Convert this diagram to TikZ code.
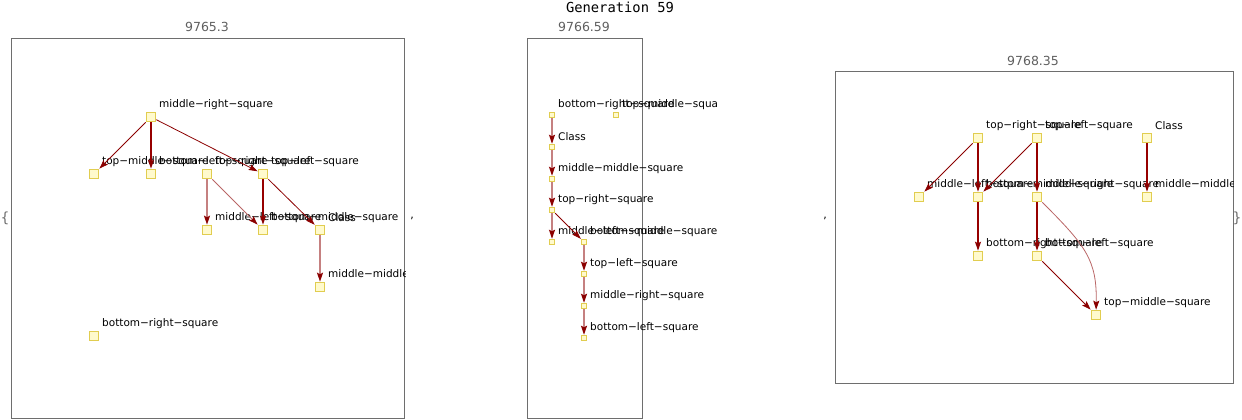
\documentclass[tikz,border=0pt]{standalone}
\usepackage{fontspec}
\setmainfont{DejaVu Sans}
\newfontfamily\genfont{DejaVu Sans Mono}
\usetikzlibrary{arrows.meta}
\definecolor{edgered}{RGB}{139,0,0}
\definecolor{vtxfill}{RGB}{255,250,205}
\definecolor{vtxline}{RGB}{225,205,80}
\definecolor{framegray}{RGB}{110,110,110}
\definecolor{titlegray}{RGB}{95,95,95}

\begin{document}
\begin{tikzpicture}[x=1pt,y=-1pt]
    \tikzstyle{vtx}=[draw=vtxline,fill=vtxfill,line width=1.1pt,minimum size=9.5pt,inner sep=0pt,label distance=9pt]
    \tikzstyle{svtx}=[vtx,line width=0.9pt,minimum size=5.5pt,label distance=9pt]
    \tikzstyle{lbltext}=[anchor=west,inner sep=0pt,yshift=7pt,font=\fontsize{10.5}{12}\selectfont]
    \tikzstyle{lbl}=[lbltext,xshift=8pt]
    \tikzstyle{slbl}=[lbltext,xshift=6pt]
    \tikzstyle{lnk}=[-{Stealth[length=9pt,width=6pt,inset=1.5pt,color=edgered]},draw=edgered,line width=0.8pt]
    \tikzstyle{lnkb}=[lnk,draw=edgered!90!red,line width=1.2pt]
    \tikzstyle{lnkp}=[lnk,draw=edgered!60]
    \tikzstyle{lnkpb}=[lnk,draw=edgered!50,line width=1.5pt]
    \tikzstyle{frame}=[draw=framegray,line width=0.7pt]
    \tikzstyle{ttl}=[text=titlegray,font=\fontsize{12.5}{14}\selectfont]

    \useasboundingbox (0,0) rectangle (1242,420);

    \node[font=\genfont\fontsize{13.8}{15}\selectfont] (gen) at (620,7) {Generation 59};
    \node[text=framegray,font=\fontsize{14}{16}\selectfont] (lbrace) at (5,218) {\{};
    \node[text=framegray,font=\fontsize{14}{16}\selectfont] (rbrace) at (1237,218) {\}};
    \node[font=\fontsize{11}{13}\selectfont] (comma1) at (412,218) {,};
    \node[font=\fontsize{11}{13}\selectfont] (comma2) at (825,218) {,};

    % first graph
    \node[ttl] (t1) at (207,27) {9765.3};
    \draw[frame] (11.5,38.5) rectangle (404.5,418.5);
    \begin{scope}
    \clip (0,30) rectangle (405,420);
    \node[vtx,label={[lbl]90:middle−right−square}] (p1mr) at (151,117) {};
    \node[vtx,label={[lbl]90:top−middle−square}] (p1tm) at (94,174) {};
    \node[vtx,label={[lbl]90:bottom−left−square}] (p1bl) at (151,174) {};
    \node[vtx,label={[lbl]90:top−right−square}] (p1tr) at (207,174) {};
    \node[vtx,label={[lbl]90:top−left−square}] (p1tl) at (263,174) {};
    \node[vtx,label={[lbl]90:middle−left−square}] (p1ml) at (207,230) {};
    \node[vtx,label={[lbl]90:bottom−middle−square}] (p1bm) at (263,230) {};
    \node[vtx,label={[lbl]90:Class}] (p1cl) at (320,230) {};
    \node[vtx,label={[lbl]90:middle−middle−square}] (p1mm) at (320,287) {};
    \node[vtx,label={[lbl]90:bottom−right−square}] (p1br) at (94,336) {};
    \draw[lnk] (p1mr) -- (p1tm);
    \draw[lnkb] (p1mr) -- (p1bl);
    \draw[lnk] (p1mr) -- (p1tl);
    \draw[lnkpb] (p1tr) -- (p1ml);
    \draw[lnkp] (p1tr) -- (p1bm);
    \draw[lnkb] (p1tl) -- (p1bm);
    \draw[lnk] (p1tl) -- (p1cl);
    \draw[lnkpb] (p1cl) -- (p1mm);
    \end{scope}

    % second graph
    \node[ttl] (t2) at (584,27) {9766.59};
    \draw[frame] (527.5,38.5) rectangle (642.5,418.5);
    \begin{scope}
    \clip (520,30) rectangle (716,420);
    \node[svtx,label={[slbl]90:bottom−right−square}] (p2br) at (552,115) {};
    \node[svtx,label={[slbl]90:top−middle−square}] (p2tm) at (616,115) {};
    \node[svtx,label={[slbl]90:Class}] (p2cl) at (552,147) {};
    \node[svtx,label={[slbl]90:middle−middle−square}] (p2mm) at (552,179) {};
    \node[svtx,label={[slbl]90:top−right−square}] (p2tr) at (552,210) {};
    \node[svtx,label={[slbl]90:middle−left−square}] (p2ml) at (552,242) {};
    \node[svtx,label={[slbl]90:bottom−middle−square}] (p2bm) at (584,242) {};
    \node[svtx,label={[slbl]90:top−left−square}] (p2tl) at (584,274) {};
    \node[svtx,label={[slbl]90:middle−right−square}] (p2mr) at (584,306) {};
    \node[svtx,label={[slbl]90:bottom−left−square}] (p2bl) at (584,338) {};
    \draw[lnkpb] (p2br) -- (p2cl);
    \draw[lnkpb] (p2cl) -- (p2mm);
    \draw[lnkpb] (p2mm) -- (p2tr);
    \draw[lnkpb] (p2tr) -- (p2ml);
    \draw[lnk] (p2tr) -- (p2bm);
    \draw[lnkpb] (p2bm) -- (p2tl);
    \draw[lnkpb] (p2tl) -- (p2mr);
    \draw[lnkpb] (p2mr) -- (p2bl);
    \end{scope}

    % third graph
    \node[ttl] (t3) at (1033,61) {9768.35};
    \draw[frame] (835.5,71.5) rectangle (1233.5,383.5);
    \begin{scope}
    \clip (830,30) rectangle (1233.5,420);
    \node[vtx,label={[lbl]90:top−right−square}] (p3tr) at (978,138) {};
    \node[vtx,label={[lbl]90:top−left−square}] (p3tl) at (1037,138) {};
    \node[vtx,label={[lbl]90:Class}] (p3cl) at (1147,138) {};
    \node[vtx,label={[lbl]90:middle−left−square}] (p3ml) at (919,197) {};
    \node[vtx,label={[lbl]90:bottom−middle−square}] (p3bm) at (978,197) {};
    \node[vtx,label={[lbl]90:middle−right−square}] (p3mr) at (1037,197) {};
    \node[vtx,label={[lbl]90:middle−middle−square}] (p3mm) at (1147,197) {};
    \node[vtx,label={[lbl]90:bottom−right−square}] (p3br) at (978,256) {};
    \node[vtx,label={[lbl]90:bottom−left−square}] (p3bl) at (1037,256) {};
    \node[vtx,label={[lbl]90:top−middle−square}] (p3tm) at (1096,315) {};
    \draw[lnk] (p3tr) -- (p3ml);
    \draw[lnkb] (p3tr) -- (p3bm);
    \draw[lnk] (p3tl) -- (p3bm);
    \draw[lnkb] (p3tl) -- (p3mr);
    \draw[lnkb] (p3cl) -- (p3mm);
    \draw[lnkb] (p3bm) -- (p3br);
    \draw[lnkb] (p3mr) -- (p3bl);
    \draw[lnkp] (p3mr) .. controls (1086,246) and (1097,260) .. (p3tm);
    \draw[lnk] (p3bl) -- (p3tm);
    \end{scope}
\end{tikzpicture}
\end{document}
